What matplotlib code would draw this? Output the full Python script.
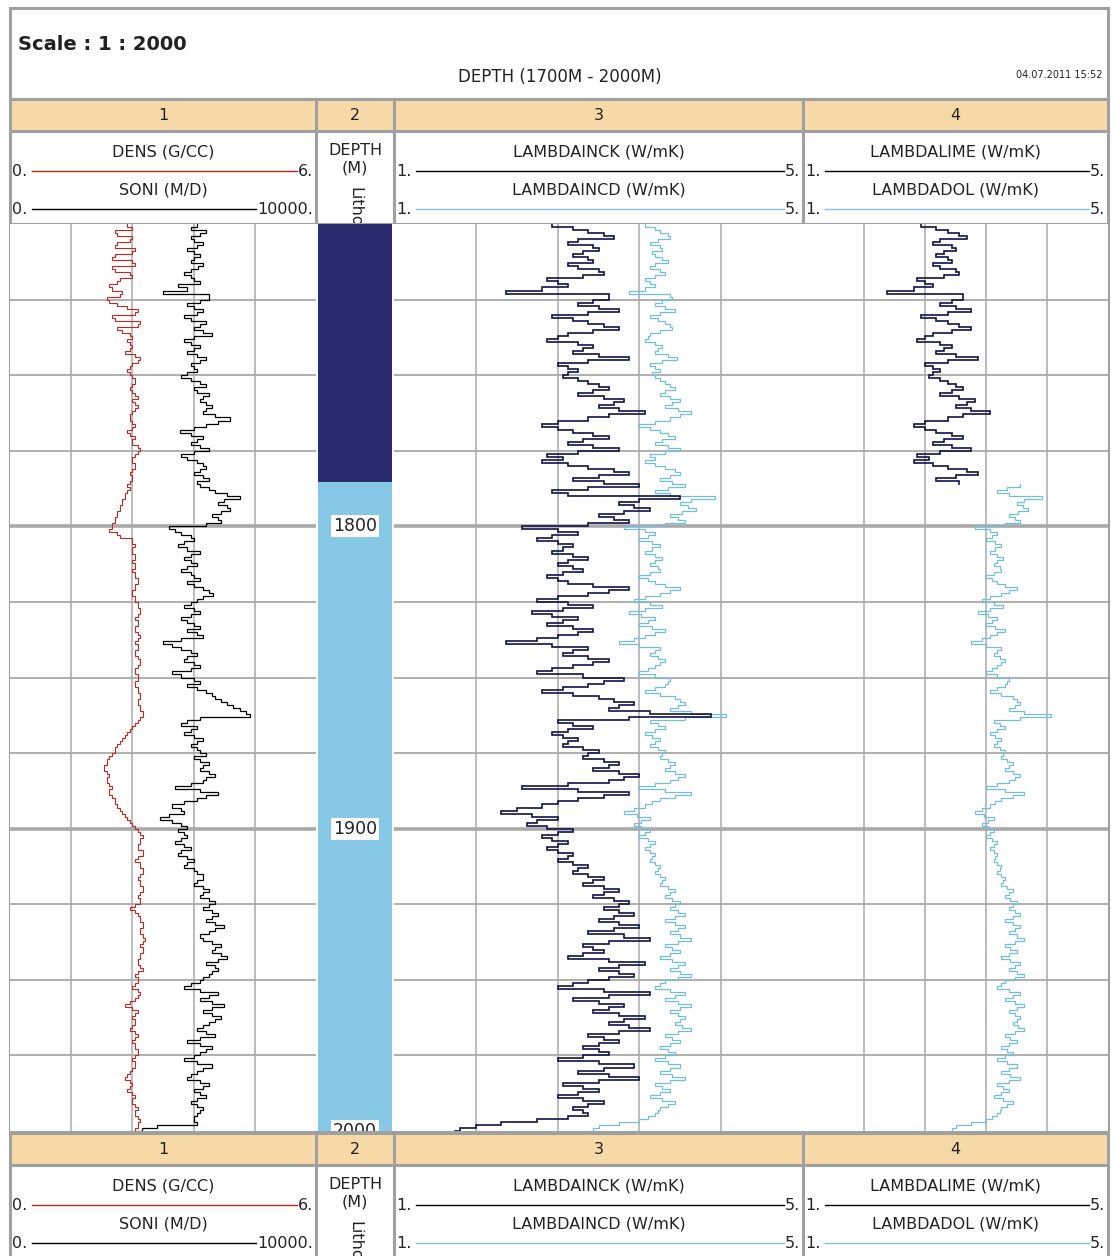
import numpy as np
import matplotlib
matplotlib.use("Agg")
import matplotlib.pyplot as plt
from matplotlib.patches import Rectangle

# ---------------------------------------------------------------- data
DEPTH = np.arange(1700, 2001, 1)  # m, one value per metre

DENS = [  # G/CC
    2.30, 2.40, 2.05, 2.10, 2.40, 2.35, 2.10, 2.05, 2.45, 2.40,
    2.05, 2.00, 2.40, 2.45, 2.00, 2.05, 2.35, 2.40, 2.15, 2.10,
    1.95, 2.00, 2.20, 2.15, 1.90, 1.95, 2.10, 2.30, 2.50, 2.45,
    2.00, 2.05, 2.55, 2.50, 2.10, 2.20, 2.35, 2.40, 2.30, 2.35,
    2.40, 2.35, 2.25, 2.45, 2.55, 2.50, 2.40, 2.35, 2.30, 2.35,
    2.40, 2.45, 2.45, 2.40, 2.35, 2.40, 2.45, 2.50, 2.40, 2.45,
    2.50, 2.45, 2.40, 2.35, 2.35, 2.40, 2.45, 2.40, 2.30, 2.35,
    2.45, 2.40, 2.40, 2.50, 2.55, 2.50, 2.45, 2.40, 2.40, 2.45,
    2.45, 2.40, 2.35, 2.40, 2.40, 2.35, 2.30, 2.35, 2.30, 2.25,
    2.25, 2.20, 2.20, 2.15, 2.15, 2.10, 2.10, 2.05, 2.05, 2.00,
    2.00, 1.95, 2.10, 2.15, 2.40, 2.40, 2.45, 2.40, 2.40, 2.45,
    2.45, 2.40, 2.45, 2.45, 2.40, 2.45, 2.45, 2.50, 2.50, 2.45,
    2.45, 2.40, 2.40, 2.45, 2.45, 2.50, 2.50, 2.55, 2.55, 2.50,
    2.45, 2.50, 2.50, 2.45, 2.45, 2.50, 2.55, 2.50, 2.45, 2.50,
    2.50, 2.45, 2.45, 2.50, 2.55, 2.55, 2.50, 2.45, 2.45, 2.50,
    2.50, 2.45, 2.45, 2.50, 2.50, 2.55, 2.55, 2.50, 2.50, 2.55,
    2.55, 2.60, 2.60, 2.55, 2.50, 2.45, 2.40, 2.35, 2.30, 2.25,
    2.20, 2.15, 2.10, 2.05, 2.05, 2.00, 1.95, 1.90, 1.90, 1.85,
    1.85, 1.90, 1.95, 1.90, 1.90, 1.95, 2.00, 1.95, 1.95, 2.00,
    2.05, 2.05, 2.10, 2.15, 2.20, 2.25, 2.30, 2.35, 2.40, 2.45,
    2.50, 2.55, 2.60, 2.55, 2.55, 2.50, 2.50, 2.60, 2.60, 2.50,
    2.45, 2.55, 2.55, 2.60, 2.60, 2.55, 2.50, 2.55, 2.55, 2.60,
    2.60, 2.55, 2.50, 2.55, 2.55, 2.45, 2.35, 2.45, 2.50, 2.55,
    2.55, 2.60, 2.60, 2.55, 2.55, 2.60, 2.65, 2.60, 2.55, 2.60,
    2.60, 2.55, 2.55, 2.50, 2.50, 2.55, 2.60, 2.50, 2.45, 2.50,
    2.50, 2.45, 2.40, 2.50, 2.55, 2.50, 2.45, 2.35, 2.25, 2.40,
    2.50, 2.45, 2.40, 2.45, 2.45, 2.40, 2.35, 2.45, 2.50, 2.45,
    2.40, 2.45, 2.45, 2.50, 2.50, 2.45, 2.40, 2.45, 2.45, 2.40,
    2.35, 2.30, 2.25, 2.35, 2.40, 2.35, 2.30, 2.40, 2.45, 2.40,
    2.40, 2.45, 2.50, 2.45, 2.45, 2.50, 2.55, 2.50, 2.50, 2.45,
    2.45,
]

SONI = [  # M/D
    6100, 5900, 6400, 6200, 5900, 6000, 6300, 6100, 5800, 6000,
    6200, 6000, 5900, 6300, 6150, 5900, 5700, 5900, 6000, 6200,
    5500, 5800, 5000, 6500, 6500, 6200, 5800, 6000, 6300, 6100,
    5700, 5900, 6400, 6200, 6000, 6300, 6600, 6000, 5700, 5900,
    6200, 6000, 5800, 6100, 6400, 6200, 5900, 6000, 6100, 5800,
    5600, 5900, 6200, 6400, 6000, 6100, 6500, 6300, 6200, 6400,
    6600, 6400, 6300, 6700, 7200, 6800, 6400, 6000, 5550, 5900,
    6300, 6100, 5900, 6200, 6500, 6000, 5600, 5800, 6100, 6300,
    6400, 6200, 6000, 6300, 6500, 6100, 6200, 6500, 6700, 7100,
    7500, 7000, 6800, 7100, 7200, 6900, 6600, 6800, 6900, 6400,
    5200, 5400, 5600, 5900, 6000, 5700, 5500, 5800, 6200, 5900,
    5700, 5900, 6100, 5800, 5600, 5900, 6000, 6200, 5800, 6000,
    6300, 6500, 6650, 6300, 6100, 5900, 5700, 6000, 6200, 5900,
    5600, 5800, 6000, 6200, 5800, 6100, 6300, 5600, 5000, 5300,
    5600, 5900, 6100, 5800, 5700, 6000, 6200, 5900, 5300, 5600,
    6000, 6200, 5800, 6100, 6400, 6600, 6700, 6900, 7100, 7300,
    7500, 7700, 7850, 6200, 5800, 5600, 6100, 5900, 5700, 6000,
    6300, 6100, 5900, 6100, 6200, 6400, 6000, 6200, 6500, 6300,
    6200, 6500, 6700, 6400, 6300, 5900, 5400, 6200, 6800, 6400,
    6100, 5700, 5300, 5600, 5700, 5200, 4900, 5300, 5600, 5800,
    5500, 5700, 5800, 5600, 5400, 5700, 5900, 5600, 5500, 5800,
    6000, 5800, 5700, 6000, 6100, 6300, 6300, 6100, 6000, 6300,
    6500, 6300, 6200, 6500, 6700, 6500, 6300, 6600, 6800, 6600,
    6400, 6700, 7000, 6700, 6500, 6200, 6300, 6600, 6900, 6700,
    6600, 6900, 7100, 6800, 6400, 6700, 6800, 6600, 6500, 6300,
    6200, 5900, 5700, 6200, 6800, 6500, 6200, 6600, 7000, 6600,
    6300, 6600, 6900, 6700, 6500, 6300, 6100, 6400, 6700, 6200,
    5800, 6200, 6600, 6400, 6200, 6000, 5700, 6100, 6600, 6300,
    6100, 5900, 5800, 6200, 6500, 6300, 6000, 6200, 6400, 6100,
    5900, 6100, 6300, 6200, 6100, 6000, 6000, 6100, 4800, 4300,
    4100,
]

LAMBDAINCK = [  # W/mK
    2.55, 2.75, 2.90, 3.05, 3.15, 2.80, 2.70, 2.95, 3.00, 2.85,
    2.75, 2.90, 2.95, 2.70, 2.80, 3.00, 3.05, 2.85, 2.50, 2.60,
    2.70, 2.45, 2.10, 3.10, 3.10, 2.95, 2.80, 3.00, 3.20, 2.90,
    2.55, 2.75, 2.90, 3.05, 3.20, 2.95, 2.70, 2.60, 2.50, 2.80,
    2.95, 2.85, 2.75, 3.00, 3.30, 2.90, 2.60, 2.70, 2.80, 2.70,
    2.65, 2.80, 2.90, 3.00, 3.10, 2.95, 2.80, 3.05, 3.25, 3.15,
    3.00, 3.20, 3.45, 3.10, 2.90, 2.60, 2.45, 2.60, 2.75, 2.95,
    3.10, 2.85, 2.70, 2.95, 3.20, 2.80, 2.50, 2.65, 2.45, 2.70,
    2.90, 3.15, 3.30, 3.00, 2.75, 3.05, 3.40, 2.90, 2.55, 2.70,
    3.80, 3.40, 3.20, 3.35, 3.50, 3.25, 3.00, 3.15, 3.30, 2.90,
    2.25, 2.60, 2.80, 2.55, 2.40, 2.60, 2.75, 2.65, 2.55, 2.75,
    2.90, 2.70, 2.60, 2.75, 2.85, 2.65, 2.50, 2.60, 2.70, 2.95,
    3.30, 3.10, 2.90, 2.60, 2.40, 2.70, 2.95, 2.65, 2.35, 2.55,
    2.80, 2.65, 2.50, 2.75, 2.95, 2.80, 2.60, 2.40, 2.10, 2.55,
    2.90, 2.75, 2.65, 2.90, 3.10, 2.95, 2.75, 2.55, 2.40, 2.85,
    3.25, 3.05, 2.90, 2.65, 2.45, 2.75, 3.00, 3.15, 3.35, 3.20,
    3.10, 3.50, 4.10, 3.30, 2.60, 2.75, 2.95, 2.70, 2.55, 2.65,
    2.80, 2.70, 2.65, 2.85, 3.00, 2.90, 2.85, 3.05, 3.20, 3.10,
    2.95, 3.20, 3.40, 3.25, 3.10, 2.70, 2.25, 2.80, 3.30, 3.05,
    2.80, 2.60, 2.45, 2.20, 2.05, 2.35, 2.60, 2.40, 2.30, 2.50,
    2.75, 2.60, 2.45, 2.55, 2.70, 2.60, 2.50, 2.60, 2.75, 2.70,
    2.60, 2.75, 2.90, 2.80, 2.75, 2.90, 3.05, 2.95, 2.85, 3.05,
    3.20, 3.05, 2.95, 3.15, 3.30, 3.20, 3.05, 3.20, 3.35, 3.15,
    3.00, 3.20, 3.40, 3.15, 2.90, 3.25, 3.50, 3.10, 2.85, 2.95,
    3.05, 2.85, 2.70, 3.10, 3.45, 3.20, 3.00, 3.20, 3.35, 3.10,
    2.90, 2.75, 2.60, 3.05, 3.50, 3.10, 2.75, 3.00, 3.25, 3.10,
    2.95, 3.20, 3.45, 3.25, 3.10, 3.30, 3.50, 3.20, 2.90, 3.05,
    3.20, 3.00, 2.85, 3.00, 3.10, 2.85, 2.60, 3.00, 3.35, 3.05,
    2.80, 3.10, 3.40, 3.00, 2.65, 2.85, 3.00, 2.80, 2.60, 2.85,
    3.05, 2.90, 2.75, 2.85, 2.90, 2.70, 2.40, 2.05, 1.80, 1.65,
    1.60,
]

LAMBDAINCD = [  # W/mK
    3.45, 3.55, 3.60, 3.68, 3.70, 3.58, 3.50, 3.60, 3.62, 3.52,
    3.55, 3.62, 3.68, 3.55, 3.50, 3.60, 3.65, 3.55, 3.45, 3.50,
    3.55, 3.45, 3.30, 3.70, 3.72, 3.62, 3.55, 3.65, 3.75, 3.60,
    3.50, 3.58, 3.65, 3.70, 3.72, 3.60, 3.50, 3.48, 3.45, 3.55,
    3.62, 3.58, 3.55, 3.68, 3.77, 3.62, 3.50, 3.55, 3.60, 3.52,
    3.55, 3.60, 3.65, 3.70, 3.75, 3.65, 3.60, 3.70, 3.80, 3.72,
    3.65, 3.78, 3.90, 3.80, 3.70, 3.55, 3.40, 3.50, 3.60, 3.68,
    3.75, 3.62, 3.55, 3.68, 3.80, 3.65, 3.50, 3.55, 3.45, 3.55,
    3.65, 3.75, 3.80, 3.70, 3.60, 3.72, 3.85, 3.68, 3.55, 3.70,
    4.14, 3.90, 3.80, 3.88, 3.95, 3.82, 3.70, 3.78, 3.85, 3.65,
    3.25, 3.45, 3.55, 3.48, 3.40, 3.52, 3.60, 3.52, 3.45, 3.55,
    3.62, 3.55, 3.50, 3.58, 3.60, 3.50, 3.40, 3.48, 3.55, 3.65,
    3.80, 3.70, 3.60, 3.45, 3.35, 3.50, 3.62, 3.45, 3.30, 3.42,
    3.55, 3.48, 3.40, 3.52, 3.65, 3.55, 3.45, 3.35, 3.20, 3.40,
    3.60, 3.55, 3.50, 3.58, 3.65, 3.60, 3.55, 3.48, 3.40, 3.55,
    3.70, 3.68, 3.65, 3.55, 3.45, 3.60, 3.75, 3.80, 3.85, 3.78,
    3.70, 3.90, 4.25, 3.85, 3.50, 3.58, 3.65, 3.55, 3.45, 3.52,
    3.60, 3.55, 3.50, 3.58, 3.65, 3.62, 3.60, 3.68, 3.75, 3.70,
    3.65, 3.75, 3.85, 3.78, 3.70, 3.55, 3.40, 3.65, 3.90, 3.75,
    3.60, 3.52, 3.45, 3.35, 3.25, 3.38, 3.50, 3.42, 3.35, 3.42,
    3.50, 3.45, 3.40, 3.48, 3.55, 3.50, 3.45, 3.50, 3.55, 3.52,
    3.50, 3.55, 3.60, 3.58, 3.55, 3.60, 3.65, 3.62, 3.60, 3.68,
    3.75, 3.70, 3.65, 3.72, 3.80, 3.75, 3.70, 3.78, 3.85, 3.75,
    3.65, 3.75, 3.85, 3.78, 3.70, 3.80, 3.90, 3.78, 3.65, 3.72,
    3.80, 3.70, 3.60, 3.72, 3.85, 3.78, 3.70, 3.80, 3.90, 3.78,
    3.65, 3.60, 3.55, 3.70, 3.85, 3.75, 3.65, 3.78, 3.90, 3.80,
    3.70, 3.78, 3.85, 3.80, 3.75, 3.82, 3.90, 3.78, 3.65, 3.72,
    3.80, 3.70, 3.60, 3.68, 3.75, 3.65, 3.55, 3.68, 3.80, 3.70,
    3.60, 3.72, 3.85, 3.70, 3.55, 3.62, 3.70, 3.60, 3.50, 3.62,
    3.75, 3.68, 3.60, 3.58, 3.55, 3.48, 3.40, 3.20, 3.00, 2.95,
    2.90,
]

# lithology intervals (top, base) and their fill colours
LITHO_TOPS = [1700.0, 1785.4]
LITHO_BASES = [1785.4, 2000.0]
LITHO_COLORS = ["#2b2c70", "#87c8e6"]

DEPTH_LABELS = [1800, 1900, 2000]
TRACK_NUMBERS = ["1", "2", "3", "4"]

# track 4 shows the limestone curve over the limestone interval and the
# dolomite curve over the dolomite interval
DEPTH_F = DEPTH.astype(float)
LAMBDALIME = np.where(DEPTH_F <= LITHO_BASES[0], LAMBDAINCK, np.nan)
LAMBDADOL = np.where(DEPTH_F >= LITHO_TOPS[1], LAMBDAINCD, np.nan)

# ---------------------------------------------------------------- layout
W, H = 1112, 1256
fig = plt.figure(figsize=(W / 100, H / 100), dpi=100)
fig.patch.set_facecolor("white")
bg = fig.add_axes([0, 0, 1, 1])
bg.set_xlim(0, W)
bg.set_ylim(H, 0)
bg.axis("off")

TX = [10, 316, 394, 803, 1108]          # track edges (px)
Y_TOP_BOX = 8
Y_BAND1 = (99, 131)
Y_DATA = (224, 1131)
Y_BAND2 = (1133, 1165)
GRID = "#a9a9a9"
BORDER = "#a0a0a0"
BAND = "#f6d9a7"
FONT = "DejaVu Sans"
TXTC = "#222222"
FS = 11.5


def px_axes(x0, y0, x1, y1, **kw):
    return fig.add_axes([x0 / W, 1 - y1 / H, (x1 - x0) / W, (y1 - y0) / H], **kw)


# title box
bg.text(18, 44, "Scale : 1 : 2000", fontsize=14, fontweight="bold",
        family=FONT, color=TXTC, va="center", ha="left")
bg.text(560, 77, "DEPTH (1700M - 2000M)", fontsize=12, family=FONT,
        color=TXTC, va="center", ha="center")
bg.text(1103, 75, "04.07.2011 15:52", fontsize=7, family=FONT,
        color=TXTC, va="center", ha="right")

# orange track-number bands
for (y0, y1) in (Y_BAND1, Y_BAND2):
    bg.add_patch(Rectangle((TX[0], y0), TX[-1] - TX[0], y1 - y0,
                           facecolor=BAND, edgecolor="none", zorder=1))
    for i, num in enumerate(TRACK_NUMBERS):
        bg.text((TX[i] + TX[i + 1]) / 2, (y0 + y1) / 2 + 1, num, fontsize=11.5,
                family=FONT, color=TXTC, ha="center", va="center", zorder=3)

# frame lines
hlines = [Y_TOP_BOX, Y_BAND1[0], Y_BAND1[1], Y_DATA[0], Y_DATA[1],
          Y_BAND2[0], Y_BAND2[1]]
for y in hlines:
    bg.plot([TX[0], TX[-1]], [y, y], color=BORDER, lw=2.2,
            solid_capstyle="butt", zorder=4)
bg.plot([TX[0], TX[0]], [Y_TOP_BOX, H], color=BORDER, lw=2.2, zorder=4)
bg.plot([TX[-1], TX[-1]], [Y_TOP_BOX, H], color=BORDER, lw=2.2, zorder=4)
for x in TX[1:-1]:
    bg.plot([x, x], [Y_BAND1[0], H], color=BORDER, lw=2.2, zorder=4)

renderer = fig.canvas.get_renderer()


def curve_header(x0, x1, y_name, name, lo, hi, color):
    """Curve name with its scale line and end values."""
    bg.text((x0 + x1) / 2, y_name, name, fontsize=FS, family=FONT,
            color=TXTC, ha="center", va="center", zorder=5)
    yl = y_name + 19
    t0 = bg.text(x0 + 2, yl, lo, fontsize=FS, family=FONT, color=TXTC,
                 ha="left", va="center", zorder=5)
    t1 = bg.text(x1 - 3, yl, hi, fontsize=FS, family=FONT, color=TXTC,
                 ha="right", va="center", zorder=5)
    e0 = t0.get_window_extent(renderer)
    e1 = t1.get_window_extent(renderer)
    bg.plot([e0.x1 + 5, e1.x0 - 1], [yl, yl], color=color, lw=1.0, zorder=5)


def header_block(y_off):
    curve_header(TX[0], TX[1], 152 + y_off, "DENS (G/CC)", "0.", "6.", "#c0281e")
    curve_header(TX[0], TX[1], 190 + y_off, "SONI (M/D)", "0.", "10000.", "black")
    curve_header(TX[2], TX[3], 152 + y_off, "LAMBDAINCK (W/mK)", "1.", "5.", "black")
    curve_header(TX[2], TX[3], 190 + y_off, "LAMBDAINCD (W/mK)", "1.", "5.", "#7cc0dd")
    curve_header(TX[3], TX[4], 152 + y_off, "LAMBDALIME (W/mK)", "1.", "5.", "black")
    curve_header(TX[3], TX[4], 190 + y_off, "LAMBDADOL (W/mK)", "1.", "5.", "#7cc0dd")
    # depth / litho track header (clipped at its box)
    hx = px_axes(TX[1] + 1, Y_BAND1[1] + y_off + 1, TX[2] - 1, Y_DATA[0] + y_off - 1)
    hx.set_xlim(0, 1)
    hx.set_ylim(1, 0)
    hx.axis("off")
    hx.text(0.5, 0.20, "DEPTH", fontsize=FS, family=FONT, color=TXTC,
            ha="center", va="center")
    hx.text(0.5, 0.40, "(M)", fontsize=FS, family=FONT, color=TXTC,
            ha="center", va="center")
    hx.text(0.5, 0.60, "Litho", fontsize=FS, family=FONT, color=TXTC,
            rotation=-90, ha="center", va="top", clip_on=True)


header_block(0)
header_block(Y_BAND2[1] - Y_BAND1[1])

# ---------------------------------------------------------------- tracks
D0, D1 = 1700, 2000


def hide_ticks(ax):
    ax.tick_params(left=False, bottom=False, labelleft=False, labelbottom=False,
                   top=False, labeltop=False, right=False, labelright=False)


def track_axes(i):
    ax = px_axes(TX[i], Y_DATA[0], TX[i + 1], Y_DATA[1])
    ax.set_ylim(D1, D0)
    ax.set_facecolor("white")
    for s in ax.spines.values():
        s.set_visible(False)
    hide_ticks(ax)
    return ax


def draw_grid(ax, lo, hi):
    ax.set_xlim(lo, hi)
    for x in np.linspace(lo, hi, 6)[1:-1]:
        ax.axvline(x, color=GRID, lw=1.1, zorder=0)
    for d in range(D0 + 25, D1, 25):
        ax.axhline(d, color=GRID, lw=2.6 if d % 100 == 0 else 1.3, zorder=0)


def log_curve(ax, values, color, lw=0.8, z=2):
    ax.plot(values, DEPTH, color=color, lw=lw, drawstyle="steps-pre",
            solid_joinstyle="miter", zorder=z)


# track 1: density and sonic
ax1 = track_axes(0)
draw_grid(ax1, 0, 6)
log_curve(ax1, DENS, "#c0281e", lw=0.8)
ax1b = ax1.twiny()
ax1b.set_xlim(0, 10000)
for s in ax1b.spines.values():
    s.set_visible(False)
hide_ticks(ax1)
hide_ticks(ax1b)
log_curve(ax1b, SONI, "black", lw=0.9)

# track 2: lithology and depth labels
ax2 = track_axes(1)
ax2.set_xlim(0, 1)
for top, base, c in zip(LITHO_TOPS, LITHO_BASES, LITHO_COLORS):
    ax2.axhspan(top, base, xmin=0.02, xmax=0.98, color=c, lw=0, zorder=1)
for d in DEPTH_LABELS:
    ax2.text(0.5, d, str(d), fontsize=12.5, family=FONT, color=TXTC,
             ha="center", va="center", clip_on=True, zorder=3,
             bbox=dict(boxstyle="square,pad=0.12", fc="white", ec="none"))

# track 3: conductivity (clastic/carbonate)
ax3 = track_axes(2)
draw_grid(ax3, 1, 5)
log_curve(ax3, LAMBDAINCD, "#72bcdc", lw=0.9)
log_curve(ax3, LAMBDAINCK, "#12124a", lw=1.2, z=3)

# track 4: limestone / dolomite conductivity
ax4 = track_axes(3)
draw_grid(ax4, 1, 5)
log_curve(ax4, LAMBDADOL, "#72bcdc", lw=0.9)
log_curve(ax4, LAMBDALIME, "#12124a", lw=1.2, z=3)

fig.savefig("out.png", dpi=100, facecolor="white")
